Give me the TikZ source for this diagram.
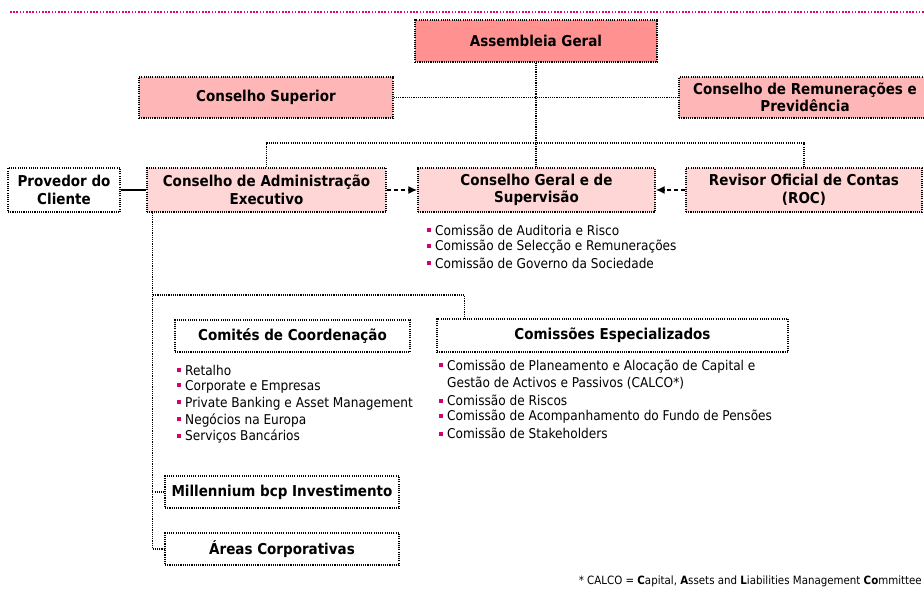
\documentclass[tikz,border=0pt]{standalone}
\usepackage{fontspec}
\setmainfont{DejaVu Sans Condensed}
\usepackage{xcolor}
\usetikzlibrary{arrows.meta,calc,positioning}
\definecolor{ink}{HTML}{000000}
\definecolor{rule}{HTML}{E2007A}
\definecolor{top}{HTML}{FF9191}
\definecolor{mid}{HTML}{FFB6B6}
\definecolor{low}{HTML}{FFD6D6}
\definecolor{dot}{HTML}{D4006F}
\newcommand{\bul}{\textcolor{dot}{\rule[3pt]{4pt}{4pt}}\hspace{4pt}}

\begin{document}
\begin{tikzpicture}[x=1pt,y=-1pt,>=Latex,
 box/.style={draw=ink,line width=1.3pt,dash pattern=on 1.1pt off 1.1pt,align=center,font=\fontsize{15}{17.5}\selectfont\bfseries,inner sep=2pt},
 link/.style={draw=ink,line width=1.3pt,dash pattern=on 1.1pt off 1.1pt},
 flow/.style={line width=2.2pt,dash pattern=on 4pt off 3pt,-{Latex[length=9pt,width=8pt]}},
 item/.style={anchor=west,align=left,font=\fontsize{13.5}{16.8}\selectfont,inner sep=0pt}]
\useasboundingbox (0,0) rectangle (924,599);
\clip (0,0) rectangle (924,599);
\draw[rule,line width=1.6pt,dash pattern=on 1.6pt off 1.6pt] (10,12) -- (924,12);
% 1: the governing bodies
\node[box,fill=top,minimum width=242pt,minimum height=42pt] (ag) at (536,41) {Assembleia Geral};
\node[box,fill=mid,minimum width=254pt,minimum height=41pt] (cs) at (266,97.5) {Conselho Superior};
\node[box,fill=mid,minimum width=252pt,minimum height=41pt] (crp) at (805,97.5) {Conselho de Remunerações e\\Previdência};
\node[box,fill=white,minimum width=112pt,minimum height=44pt] (pv) at (64,190) {Provedor do\\Cliente};
\node[box,fill=low,minimum width=239pt,minimum height=44pt] (cae) at (266.5,190) {Conselho de Administração\\Executivo};
\node[box,fill=low,minimum width=237pt,minimum height=44pt] (cgs) at (536.5,190) {Conselho Geral e de\\Supervisão};
\node[box,fill=low,minimum width=236pt,minimum height=44pt] (roc) at (804,190) {Revisor Oficial de Contas\\(ROC)};
\coordinate (bar) at (536,143);
\draw[link] (ag.south) -- (ag.south |- cgs.north);
\draw[link] (cs.east) -- (crp.west);
\draw[link] (cae.north) |- (bar) -| (roc.north);
\draw[line width=2.8pt] (pv.east) -- (cae.west);
\draw[flow] (cae.east) -- (cgs.west);
\draw[flow] (roc.west) -- (cgs.east);
\foreach \t [count=\i] in {Comissão de Auditoria e Risco,Comissão de Selecção e Remunerações,Comissão de Governo da Sociedade}
 \node[item] (gs\i) at (427,213.5+16.6*\i) {\bul\t};
% 2: what hangs below the executive board
\node[box,fill=white,minimum width=235pt,minimum height=32pt] (cc) at (292.5,336) {Comités de Coordenação};
\node[box,fill=white,minimum width=351pt,minimum height=33pt] (ce) at (612.5,335.5) {Comissões Especializados};
\node[box,fill=white,minimum width=234pt,minimum height=32pt] (mb) at (282,492) {Millennium bcp Investimento};
\node[box,fill=white,minimum width=234pt,minimum height=32pt] (ac) at (282,549) {Áreas Corporativas};
\coordinate (sp) at ($(cae.south west)+(6,0)$);
\coordinate (fork) at (153,295);
\draw[link] (sp) |- (ac.west);
\draw[link] (sp |- mb.west) -- (mb.west);
\draw[link] (fork) -| ($(ce.north west)+(28,0)$);
\draw[link] ($(cc.north west)+(20,0)$) -- ($(cc.north west)+(20,0)$ |- fork);
\foreach \t [count=\i] in {Retalho,Corporate e Empresas,Private Banking e Asset Management,Negócios na Europa,Serviços Bancários}
 \node[item] (cl\i) at (177,353.3+16.7*\i) {\bul\t};
\foreach \y/\t [count=\i] in {374.5/{\bul Comissão de Planeamento e Alocação de Capital e\\\hphantom{\bul}Gestão de Activos e Passivos (CALCO*)},400.5/{\bul Comissão de Riscos},417/{\bul Comissão de Acompanhamento do Fundo de Pensões},433.5/{\bul Comissão de Stakeholders}}
 \node[item] (el\i) at (439,\y) {\t};
\node[anchor=east,inner sep=0pt,font=\fontsize{11.4}{14}\selectfont] (fn) at (922,581) {* CALCO = \textbf{C}apital, \textbf{A}ssets and \textbf{L}iabilities Management \textbf{Co}mmittee};
\end{tikzpicture}
\end{document}
